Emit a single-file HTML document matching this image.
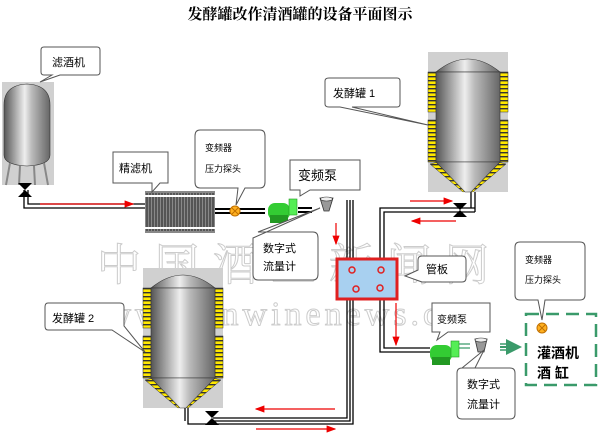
<!DOCTYPE html>
<html><head><meta charset="utf-8"><style>
body{margin:0;background:#fff;}
svg{display:block;font-family:"Liberation Sans","Noto Sans CJK SC",sans-serif;}
</style></head><body>
<svg width="600" height="433" viewBox="0 0 600 433" xmlns="http://www.w3.org/2000/svg">
<defs>
<linearGradient id="steel" x1="0" x2="1" y1="0" y2="0">
<stop offset="0" stop-color="#555"/><stop offset="0.45" stop-color="#eee"/><stop offset="0.6" stop-color="#bbb"/><stop offset="1" stop-color="#666"/>
</linearGradient>
<pattern id="yel" width="4" height="4" patternUnits="userSpaceOnUse">
<rect width="4" height="4" fill="#ffe800"/><rect width="4" height="1.4" fill="#333"/>
</pattern>
<g id="tank">
<rect x="0" y="0" width="80" height="140" fill="#d0d0d0"/>
<rect x="0" y="20" width="8" height="40" fill="url(#yel)" stroke="#333" stroke-width="0.5"/>
<rect x="0" y="68" width="8" height="42" fill="url(#yel)" stroke="#333" stroke-width="0.5"/>
<rect x="72" y="20" width="8" height="40" fill="url(#yel)" stroke="#333" stroke-width="0.5"/>
<rect x="72" y="68" width="8" height="42" fill="url(#yel)" stroke="#333" stroke-width="0.5"/>
<path d="M2,112 L10,110 L40,138 L35,140 Z" fill="url(#yel)" stroke="#333" stroke-width="0.5"/>
<path d="M78,112 L70,110 L40,138 L45,140 Z" fill="url(#yel)" stroke="#333" stroke-width="0.5"/>
<path d="M8,20 Q40,-6 72,20 Z" fill="url(#steel)" stroke="#333" stroke-width="0.6"/>
<rect x="8" y="20" width="64" height="90" fill="url(#steel)" stroke="#333" stroke-width="0.6"/>
<path d="M8,110 L72,110 L43,140 L37,140 Z" fill="url(#steel)" stroke="#333" stroke-width="0.6"/>
</g>
<marker id="ar" markerWidth="8" markerHeight="6" refX="7" refY="3" orient="auto"><path d="M0,0 L8,3 L0,6Z" fill="#e00"/></marker>
<marker id="ag" markerWidth="8" markerHeight="8" refX="7" refY="4" orient="auto"><path d="M0,0 L8,4 L0,8Z" fill="#3a9a6a"/></marker>
</defs>

<text x="300" y="19" text-anchor="middle" font-size="15" font-weight="bold" font-family="'Liberation Serif','Noto Serif CJK SC',serif">发酵罐改作清酒罐的设备平面图示</text>

<!-- watermark -->
<text x="300" y="280" text-anchor="middle" font-size="44" fill="none" stroke="#ccc" stroke-width="1" font-family="'Liberation Serif','Noto Serif CJK SC',serif" letter-spacing="14">中国酒业新闻网</text>
<text x="300" y="325" text-anchor="middle" font-size="34" fill="none" stroke="#ccc" stroke-width="1" font-family="'Liberation Serif',serif" letter-spacing="4">www.cnwinenews.com</text>

<!-- pipes -->
<g fill="none" stroke="#000" stroke-width="1.3">
<path d="M24,190 V208 H145"/><path d="M28,190 V204 H145"/>
<path d="M215,209 H265 M215,213 H265" stroke-width="2"/>
<path d="M298,208 H312 M298,212 H312" stroke-width="2"/>
<path d="M347,200 V418 H213"/><path d="M350,200 V421 H213"/><path d="M353,200 V424 H213"/>
<path d="M188,407 V424 H213"/><path d="M185,407 V421"/>
<path d="M380,258 V208 H475"/><path d="M384,258 V212 H475"/><path d="M471,192 V208 M475,192 V212"/>
<path d="M380,300 V352 H430"/><path d="M384,300 V348 H430"/>
<path d="M455,344 H470 M455,348 H470" stroke="#3a9a6a"/>
</g>

<!-- small tank -->
<rect x="2" y="82" width="52" height="103" fill="#d0d0d0"/>
<path d="M4,105 Q4,85 27,84 Q50,85 50,105 V155 Q50,165 27,166 Q4,165 4,155 Z" fill="url(#steel)" stroke="#333" stroke-width="0.6"/>
<path d="M10,163 L6,185 M20,166 L19,185 M34,166 L35,185 M44,163 L48,185" stroke="#888" stroke-width="2"/>
<path d="M18,183 L32,183 L25,190 Z M18,197 L32,197 L25,190Z" fill="#000"/>

<!-- fine filter -->
<rect x="145" y="191" width="70" height="42" fill="#888"/>
<g stroke="#222" stroke-width="1">
<path d="M147,193 V231 M150,193 V231 M153,193 V231 M156,193 V231 M159,193 V231 M162,193 V231 M165,193 V231 M168,193 V231 M171,193 V231 M174,193 V231 M177,193 V231 M180,193 V231 M183,193 V231 M186,193 V231 M189,193 V231 M192,193 V231 M195,193 V231 M198,193 V231 M201,193 V231 M204,193 V231 M207,193 V231 M210,193 V231 M213,193 V231"/>
</g>
<rect x="145" y="195" width="70" height="2" fill="#fff"/><rect x="145" y="227" width="70" height="2" fill="#fff"/>

<!-- orange valves -->
<circle cx="235" cy="211" r="5" fill="#ffb020" stroke="#c07000"/><path d="M232,208 L238,214 M238,208 L232,214" stroke="#c07000"/>
<circle cx="542" cy="328" r="5" fill="#ffb020" stroke="#c07000"/><path d="M539,325 L545,331 M545,325 L539,331" stroke="#c07000"/>

<!-- pumps -->
<g id="pump">
<rect x="268" y="203" width="22" height="17" rx="7" fill="#3c3"/>
<rect x="289" y="199" width="8" height="16" fill="#5e5" stroke="#292" stroke-width="0.6"/>
<rect x="270" y="215" width="18" height="8" fill="#292"/>
</g>
<use href="#pump" x="162" y="142"/>

<!-- flow meters -->
<path d="M320,198 L333,198 L329,211 L324,211 Z" fill="#999" stroke="#333" stroke-width="0.8"/>
<ellipse cx="326.5" cy="199" rx="6" ry="2" fill="#eee" stroke="#333" stroke-width="0.6"/>
<path d="M475,339 L487,339 L484,352 L478,352 Z" fill="#999" stroke="#333" stroke-width="0.8"/>
<ellipse cx="481" cy="340" rx="6" ry="2" fill="#eee" stroke="#333" stroke-width="0.6"/>

<!-- tanks -->
<use href="#tank" x="428" y="52"/>
<use href="#tank" x="143" y="268"/>
<path d="M453,203 L467,203 L460,210 Z M453,217 L467,217 L460,210Z" fill="#000"/>
<path d="M205,411 L219,411 L212,418 Z M205,425 L219,425 L212,418Z" fill="#000"/>

<!-- heat exchanger -->
<rect x="337" y="259" width="60" height="40" fill="#a8d0f0" stroke="#e02020" stroke-width="3"/>
<g fill="none" stroke="#e02020" stroke-width="1.5">
<circle cx="352" cy="270" r="3"/><circle cx="381" cy="270" r="3"/><circle cx="356" cy="289" r="3"/><circle cx="380" cy="288" r="3"/>
</g>

<!-- red arrows -->
<g stroke="#e00" stroke-width="1.2" fill="none" marker-end="url(#ar)">
<path d="M40,204 H133"/>
<path d="M336,223 V244"/>
<path d="M410,201 H452"/><path d="M456,221 H412"/>
<path d="M396,303 V345"/>
<path d="M335,409 H256"/><path d="M256,429 H335"/>
</g>
<path d="M500,347 H520" stroke="#3a9a6a" stroke-width="2" marker-end="url(#ag)"/>
<path d="M500,344 H512 M500,350 H512" stroke="#3a9a6a" stroke-width="1.5"/>

<!-- dashed box -->
<rect x="526" y="314" width="70" height="71" fill="none" stroke="#3a9a6a" stroke-width="2.5" stroke-dasharray="13,7"/>
<text x="537" y="358" font-size="14" font-weight="bold">灌酒机</text>
<text x="537" y="378" font-size="14" font-weight="bold">酒 缸</text>

<!-- callouts -->
<g fill="#fff" stroke="#555" stroke-width="1">
<path d="M47,47 H97 Q100,47 100,50 V72 Q100,75 97,75 H60 L40,82 L52,75 H44 Q41,75 41,72 V50 Q41,47 44,47Z"/>
<path d="M113,152 H168 V183 H160 L152,192 L152,183 H113Z"/>
<path d="M200,130 H260 Q265,130 265,136 V182 Q265,188 260,188 H245 L236,205 L238,188 H200 Q195,188 195,182 V136 Q195,130 200,130Z"/>
<path d="M290,160 H360 V190 H310 L300,196 L300,190 H290Z"/>
<path d="M258,232 H313 Q318,232 318,238 V274 Q318,280 313,280 H258 Q253,280 253,274 V238 L320,208 L258,232Z"/>
<path d="M329,78 H397 Q400,78 400,81 V104 Q400,107 397,107 H352 L428,125 L340,107 H329 Q325,107 325,104 V81 Q325,78 329,78Z"/>
<path d="M48,303 H120 Q124,303 124,307 V326 L145,352 L112,330 H48 Q45,330 45,326 V307 Q45,303 48,303Z"/>
<path d="M422,256 H462 Q466,256 466,260 V278 Q466,282 462,282 H422 L405,276 L418,270 V260 Q418,256 422,256Z"/>
<path d="M432,303 H490 V332 H448 L437,340 L440,332 H432Z"/>
<path d="M462,368 H510 Q515,368 515,373 V414 Q515,419 510,419 H462 Q457,419 457,414 V373 Q457,368 462,368 L484,350 L475,368Z"/>
<path d="M520,242 H580 Q585,242 585,247 V295 Q585,300 580,300 H545 L542,320 L538,300 H520 Q515,300 515,295 V247 Q515,242 520,242Z"/>
</g>
<g font-size="11" fill="#000">
<text x="52" y="66">滤酒机</text>
<text x="119" y="172">精滤机</text>
<text x="205" y="151" font-size="9">变频器</text>
<text x="205" y="172" font-size="9">压力探头</text>
<text x="298" y="180" font-size="13">变频泵</text>
<text x="263" y="252">数字式</text>
<text x="263" y="270">流量计</text>
<text x="333" y="97">发酵罐 1</text>
<text x="52" y="322">发酵罐 2</text>
<text x="426" y="273">管板</text>
<text x="437" y="323" font-size="10">变频泵</text>
<text x="467" y="388">数字式</text>
<text x="467" y="408">流量计</text>
<text x="525" y="263" font-size="9">变频器</text>
<text x="525" y="283" font-size="9">压力探头</text>
</g>
</svg>
</body></html>
